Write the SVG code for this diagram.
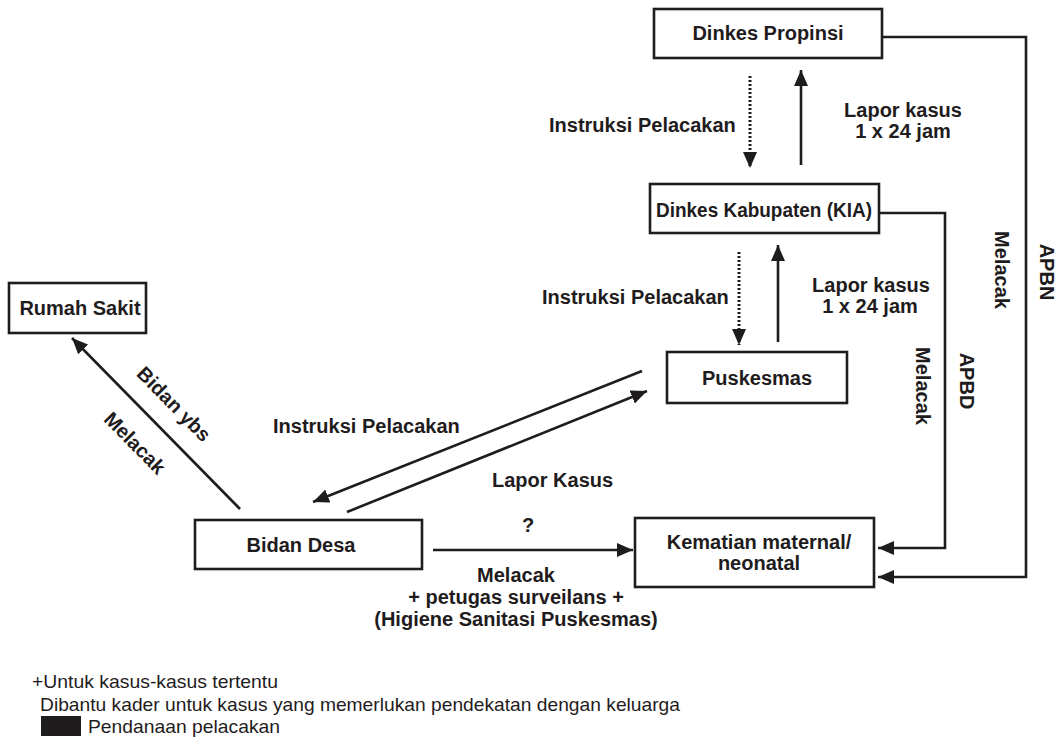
<svg xmlns="http://www.w3.org/2000/svg" width="1058" height="737" viewBox="0 0 1058 737">
  <style>
    .box { fill: #ffffff; stroke: #1f1c1d; stroke-width: 2.6; }
    .lbl { font-family: "Liberation Sans", Arial, Helvetica, sans-serif; font-weight: bold; font-size: 20px; fill: #1f1c1d; }
    .mid { text-anchor: middle; }
    .wire { fill: none; stroke: #1f1c1d; stroke-width: 2.6; }
    .dot { fill: none; stroke: #1f1c1d; stroke-width: 3; stroke-dasharray: 2 2; }
    .note { font-family: "Liberation Sans", Arial, Helvetica, sans-serif; font-size: 19px; fill: #1f1c1d; }
  </style>
  <defs>
    <marker id="ah" markerUnits="userSpaceOnUse" markerWidth="18" markerHeight="14" refX="16" refY="7" orient="auto">
      <path d="M0,0 L16,7 L0,14 z" fill="#1f1c1d"/>
    </marker>
  </defs>

  <rect width="1058" height="737" fill="#ffffff"/>

  <!-- nodes -->
  <g id="dinkes-propinsi">
    <rect class="box" x="654" y="9" width="228" height="49"/>
    <text class="lbl mid" x="768" y="40">Dinkes Propinsi</text>
  </g>
  <g id="dinkes-kabupaten">
    <rect class="box" x="650" y="184" width="229" height="49"/>
    <text class="lbl mid" x="764" y="217" textLength="216" lengthAdjust="spacingAndGlyphs">Dinkes Kabupaten (KIA)</text>
  </g>
  <g id="puskesmas">
    <rect class="box" x="667" y="352" width="180" height="51"/>
    <text class="lbl mid" x="757" y="385">Puskesmas</text>
  </g>
  <g id="rumah-sakit">
    <rect class="box" x="9" y="283" width="137" height="50"/>
    <text class="lbl mid" x="80" y="315">Rumah Sakit</text>
  </g>
  <g id="bidan-desa">
    <rect class="box" x="195" y="520" width="227" height="49"/>
    <text class="lbl mid" x="301" y="552">Bidan Desa</text>
  </g>
  <g id="kematian">
    <rect class="box" x="635" y="518" width="239" height="69"/>
    <text class="lbl mid" x="759" y="549">Kematian maternal/</text>
    <text class="lbl mid" x="759" y="570">neonatal</text>
  </g>

  <!-- connectors -->
  <g id="connectors">
    <!-- Propinsi <-> Kabupaten -->
    <line class="dot" x1="750" y1="76" x2="750" y2="168" marker-end="url(#ah)"/>
    <line class="wire" x1="801" y1="165" x2="801" y2="70" marker-end="url(#ah)"/>
    <!-- Kabupaten <-> Puskesmas -->
    <line class="dot" x1="739" y1="252" x2="739" y2="345" marker-end="url(#ah)"/>
    <line class="wire" x1="778" y1="342" x2="778" y2="245" marker-end="url(#ah)"/>
    <!-- Puskesmas <-> Bidan Desa -->
    <line class="wire" x1="642" y1="371" x2="313" y2="502" marker-end="url(#ah)"/>
    <line class="wire" x1="347" y1="512" x2="647" y2="391" marker-end="url(#ah)"/>
    <!-- Bidan Desa -> Rumah Sakit -->
    <line class="wire" x1="240" y1="509" x2="72" y2="338" marker-end="url(#ah)"/>
    <!-- Bidan Desa -> Kematian -->
    <line class="wire" x1="433" y1="550" x2="633" y2="550" marker-end="url(#ah)"/>
    <!-- funding lines to Kematian -->
    <polyline class="wire" points="879,213 945,213 945,548 878,548" marker-end="url(#ah)"/>
    <polyline class="wire" points="882,37 1026,37 1026,577 878,577" marker-end="url(#ah)"/>
  </g>

  <!-- connector labels -->
  <g id="labels">
    <text class="lbl" x="549" y="132">Instruksi Pelacakan</text>
    <text class="lbl mid" x="903" y="117">Lapor kasus</text>
    <text class="lbl mid" x="903" y="138">1 x 24 jam</text>

    <text class="lbl" x="542" y="304">Instruksi Pelacakan</text>
    <text class="lbl mid" x="871" y="292">Lapor kasus</text>
    <text class="lbl mid" x="870" y="313">1 x 24 jam</text>

    <text class="lbl" x="273" y="433">Instruksi Pelacakan</text>
    <text class="lbl" x="492" y="487">Lapor Kasus</text>

    <text class="lbl mid" transform="translate(174,404) rotate(45.5)" x="0" y="7">Bidan ybs</text>
    <text class="lbl mid" transform="translate(135,443) rotate(45.5)" x="0" y="7">Melacak</text>

    <text class="lbl mid" x="528" y="532">?</text>
    <text class="lbl mid" x="516" y="582">Melacak</text>
    <text class="lbl mid" x="516" y="604">+ petugas surveilans +</text>
    <text class="lbl mid" x="516" y="626">(Higiene Sanitasi Puskesmas)</text>

    <text class="lbl mid" transform="translate(916,386) rotate(90)" x="0" y="0">Melacak</text>
    <text class="lbl mid" transform="translate(960,381) rotate(90)" x="0" y="0">APBD</text>
    <text class="lbl mid" transform="translate(995,270) rotate(90)" x="0" y="0">Melacak</text>
    <text class="lbl mid" transform="translate(1040,272) rotate(90)" x="0" y="0">APBN</text>
  </g>

  <!-- legend -->
  <g id="legend">
    <text class="note" x="32" y="688" textLength="246" lengthAdjust="spacingAndGlyphs">+Untuk kasus-kasus tertentu</text>
    <text class="note" x="40" y="711" textLength="640" lengthAdjust="spacingAndGlyphs">Dibantu kader untuk kasus yang memerlukan pendekatan dengan keluarga</text>
    <rect x="41" y="716" width="40" height="20" fill="#1f1c1d"/>
    <text class="note" x="88" y="733" textLength="192" lengthAdjust="spacingAndGlyphs">Pendanaan pelacakan</text>
  </g>
</svg>
